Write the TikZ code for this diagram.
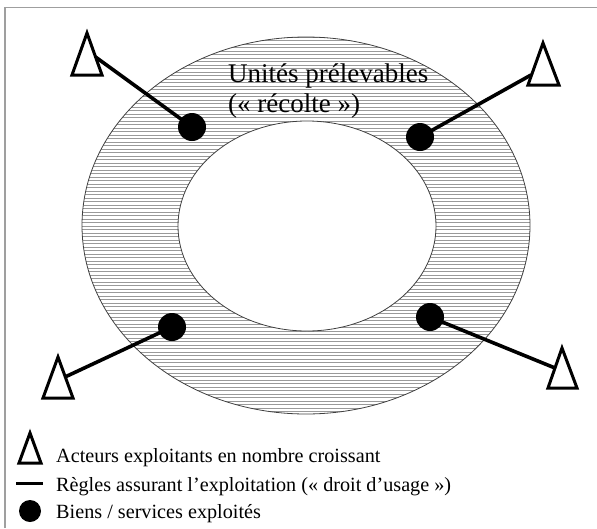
\documentclass[tikz,border=0pt]{standalone}
\usepackage{fontspec}
\setmainfont{Liberation Serif}
\begin{document}
\begin{tikzpicture}[x=1pt,y=-1pt,
  frameline/.style={draw=gray!75,line width=1.8pt},
  hatch/.style={draw=gray!80,line width=0.8pt},
  ringline/.style={draw=black!75,line width=0.8pt},
  good/.style={circle,fill=black,inner sep=0pt,minimum size=28pt},
  rule/.style={line width=3.6pt,line cap=round},
  actor/.style={draw=black,line width=3pt,fill=white,line join=miter},
  ringtext/.style={anchor=base west,inner sep=0pt,font=\fontsize{27}{30}\selectfont},
  legtext/.style={anchor=base west,inner sep=0pt,font=\fontsize{20.2}{23}\selectfont}]
\useasboundingbox (0,0) rectangle (597,528);
% frame (top and left only)
\draw[frameline] (5,528) -- (5,7.5) -- (597,7.5);
% ring with hatching
\begin{scope}
  \clip (306,225.5) ellipse [x radius=224, y radius=188.5];
  \foreach \yy in {37,40.5,...,416} {\draw[hatch] (80,\yy) -- (535,\yy);}
\end{scope}
\fill[white] (307,226) ellipse [x radius=129, y radius=105];
\draw[ringline] (306,225.5) ellipse [x radius=224, y radius=188.5];
\draw[ringline] (307,226) ellipse [x radius=129, y radius=105];
% ring label
\node[ringtext] (lab1) at (228,82) {Unités prélevables};
\node[ringtext] (lab2) at (228,112) {(« récolte »)};
% goods
\node[good] (g1) at (192,127) {};
\node[good] (g2) at (420,137) {};
\node[good] (g3) at (172,327) {};
\node[good] (g4) at (430,317) {};
% actor attachment points
\coordinate (a1) at (95.5,57);
\coordinate (a2) at (531,75);
\coordinate (a3) at (65,377);
\coordinate (a4) at (555,368);
% rules
\draw[rule] (g1.center) -- (a1);
\draw[rule] (g2.center) -- (a2);
\draw[rule] (g3.center) -- (a3);
\draw[rule] (g4.center) -- (a4);
% actors
\draw[actor] (87,33) -- (102,75) -- (72,75) -- cycle;
\draw[actor] (543,43) -- (559,85) -- (528,85) -- cycle;
\draw[actor] (58,357) -- (73,398) -- (43,398) -- cycle;
\draw[actor] (562,348) -- (577,388) -- (548,388) -- cycle;
% legend
\draw[actor] (30,433) -- (41,463) -- (19,463) -- cycle;
\node[legtext] (t1) at (56,462) {Acteurs exploitants en nombre croissant};
\coordinate (l1) at (16,483);
\coordinate (l2) at (43,483);
\draw[line width=3pt] (l1) -- (l2);
\node[legtext] (t2) at (56,491) {Règles assurant l’exploitation (« droit d’usage »)};
\node[circle,fill=black,inner sep=0pt,minimum size=22pt] (gl) at (30,511) {};
\node[legtext] (t3) at (56,518) {Biens / services exploités};
\end{tikzpicture}
\end{document}
